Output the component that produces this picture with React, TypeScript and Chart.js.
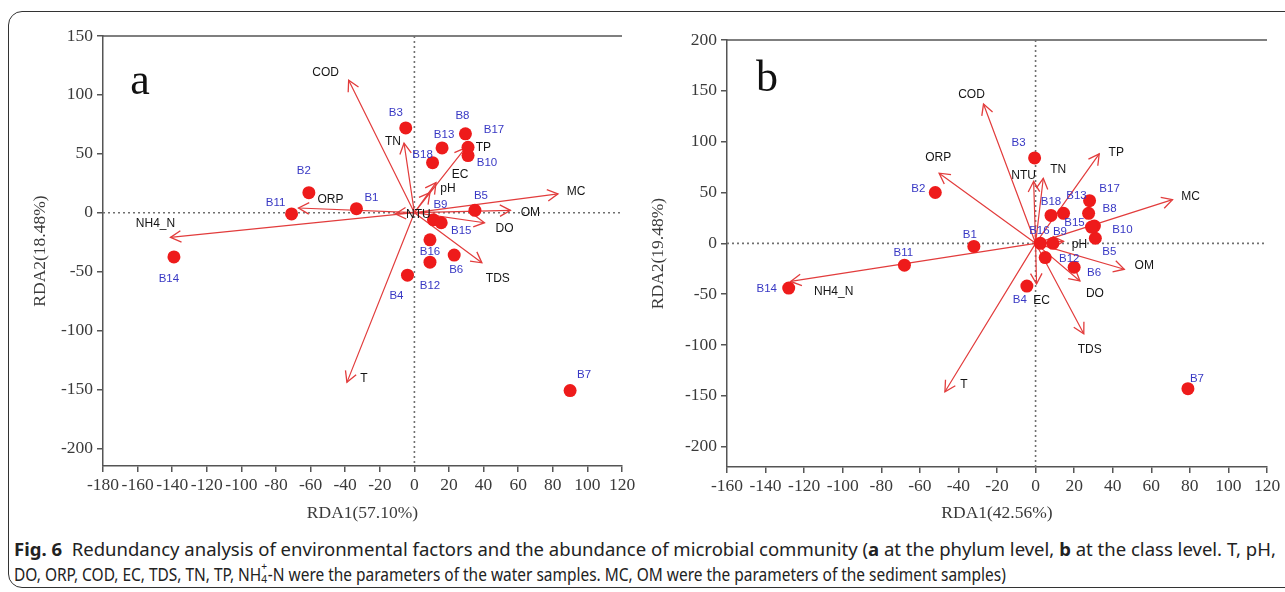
import React, { useEffect, useLayoutEffect, useRef, useState } from 'react';
import { Chart, registerables } from 'chart.js';

Chart.register(...registerables);

// ---------- Data ----------
const samples = ['B1', 'B2', 'B3', 'B4', 'B5', 'B6', 'B7', 'B8', 'B9', 'B10', 'B11', 'B12', 'B13', 'B14', 'B15', 'B16', 'B17', 'B18'];

// Panel a (phylum level)
const sampleXA = [-33.5, -61, -5, -4, 35, 23, 90, 29.5, 11, 31, -71, 9, 16, -139, 15.5, 9, 31, 10.5];
const sampleYA = [3.4, 17, 72, -53, 2, -36, -151, 67, -6, 48.5, -1, -42, 55, -37.5, -8.5, -23, 55.5, 42.5];
const factorsA = ['COD', 'TN', 'ORP', 'NH4_N', 'MC', 'OM', 'DO', 'TDS', 'T', 'TP', 'EC', 'pH', 'NTU'];
const factorXA = [-38, -6, -67, -141, 83, 55.5, 40.5, 39, -39, 29.5, 12.5, 9, -11];
const factorYA = [112.5, 59, 4, -21, 16, 2, -8.5, -42.5, -144, 55, 25.5, 17, -1];
const xTicksA = [-180, -160, -140, -120, -100, -80, -60, -40, -20, 0, 20, 40, 60, 80, 100, 120];
const yTicksA = [-200, -150, -100, -50, 0, 50, 100, 150];

// Panel b (class level)
const sampleXB = [-32, -52, -0.5, -4.5, 31, 20, 79, 27.5, 9, 30.5, -68, 5, 14.5, -128, 29, 2.5, 28, 8];
const sampleYB = [-3, 50, 84, -42, 5, -23.5, -143, 29.5, 0, 17, -21.5, -14, 29.5, -44, 16, 0, 42, 27.5];
const factorsB = ['COD', 'ORP', 'NH4_N', 'NTU', 'TN', 'TP', 'MC', 'OM', 'DO', 'pH', 'EC', 'TDS', 'T'];
const factorXB = [-27, -50, -127, -1, 4, 33, 71, 46, 23, 14.5, 0.5, 25, -47];
const factorYB = [137, 69, -37.5, 61, 64, 88, 43, -25.5, -37, 2, -40, -89, -146];
const xTicksB = [-160, -140, -120, -100, -80, -60, -40, -20, 0, 20, 40, 60, 80, 100, 120];
const yTicksB = [-200, -150, -100, -50, 0, 50, 100, 150, 200];

// ---------- Label placement (pixel offsets from marks) ----------
const sampleOffA = [[15, -11], [-5, -22], [-10, -15], [-11, 21], [6, -15], [2, 15], [14, -16], [-3, -18], [7, -15], [19, 7], [-16, -11], [0, 24], [2, -13], [-5, 22], [20, 8], [0, 12], [26, -18], [-10, -8]];
const factorOffA = [[-23, -7], [-11, -2], [32, -8], [-15, -14], [18, -2], [20, 2], [20, 6], [16, 16], [17, -4], [18, 0], [24, -8], [18, -4], [23, 1]];
const sampleOffB = [[-4, -12], [-17, -4], [-16, -15], [-7, 14], [14, 14], [20, 6], [9, -10], [21, -5], [7, -12], [28, 4], [-1, -12], [24, 1], [13, -18], [-22, 1], [-17, -4], [-1, -13], [20, -12], [0, -14]];
const factorOffB = [[-12, -9], [-1, -15], [43, 10], [-10, -6], [15, -9], [17, -1], [18, -3], [20, -4], [15, 13], [16, 3], [5, 17], [6, 16], [19, -7]];

const RED_POINT = '#ee1b1b';
const RED_ARROW = '#e23c3c';
const BLUE_LABEL = '#3838c4';
const AXIS_COLOR = '#555';
const TICK_COLOR = '#3a3a3a';
const SERIF = "'Liberation Serif', 'DejaVu Serif', serif";
const SANS = "'Liberation Sans', Arial, sans-serif";

type PanelCfg = {
  letter: string;
  letterPos: [number, number];
  sx: number[]; sy: number[]; sOff: number[][];
  fn: string[]; fx: number[]; fy: number[]; fOff: number[][];
  xTicks: number[]; yTicks: number[];
  xMin: number; xMax: number; yMin: number; yMax: number;
  xTitle: string; yTitle: string;
  padding: { left: number; right: number; top: number; bottom: number };
  yAxisWidth: number; xAxisHeight: number;
  yTitlePadTop: number;
};

function drawHead(ctx: CanvasRenderingContext2D, x0: number, y0: number, x1: number, y1: number) {
  const ang = Math.atan2(y1 - y0, x1 - x0);
  const len = 12;
  const spread = 0.5;
  ctx.beginPath();
  ctx.moveTo(x1 - len * Math.cos(ang - spread), y1 - len * Math.sin(ang - spread));
  ctx.lineTo(x1, y1);
  ctx.lineTo(x1 - len * Math.cos(ang + spread), y1 - len * Math.sin(ang + spread));
  ctx.stroke();
}

function buildConfig(p: PanelCfg): any {
  const arrowData: any[] = [];
  p.fx.forEach((x, i) => {
    arrowData.push({ x: 0, y: 0 });
    arrowData.push({ x, y: p.fy[i] });
    arrowData.push({ x: 0, y: null });
  });
  const pointData = p.sx.map((x, i) => ({ x, y: p.sy[i] }));

  const biplot = {
    id: 'biplot-' + p.letter,
    beforeDatasetsDraw(chart: any) {
      const { ctx, chartArea: a, scales } = chart;
      const x0 = scales.x.getPixelForValue(0);
      const y0 = scales.y.getPixelForValue(0);
      ctx.save();
      ctx.strokeStyle = AXIS_COLOR;
      ctx.lineWidth = 1.5;
      ctx.beginPath();
      ctx.moveTo(a.left, a.top);
      ctx.lineTo(a.right, a.top);
      ctx.stroke();
      ctx.strokeStyle = '#707070';
      ctx.lineWidth = 1.6;
      ctx.setLineDash([2, 3]);
      ctx.beginPath();
      ctx.moveTo(a.left, y0);
      ctx.lineTo(a.right, y0);
      ctx.moveTo(x0, a.top);
      ctx.lineTo(x0, a.bottom);
      ctx.stroke();
      ctx.setLineDash([]);
      ctx.fillStyle = '#111';
      ctx.font = `44px ${SERIF}`;
      ctx.textAlign = 'center';
      ctx.textBaseline = 'middle';
      ctx.fillText(p.letter, p.letterPos[0], p.letterPos[1]);
      ctx.restore();
    },
    afterDatasetDraw(chart: any, args: any) {
      if (args.index !== 0) return;
      const { ctx, scales } = chart;
      const x0 = scales.x.getPixelForValue(0);
      const y0 = scales.y.getPixelForValue(0);
      ctx.save();
      ctx.strokeStyle = RED_ARROW;
      ctx.lineWidth = 1.3;
      p.fx.forEach((fx, i) => {
        drawHead(ctx, x0, y0, scales.x.getPixelForValue(fx), scales.y.getPixelForValue(p.fy[i]));
      });
      ctx.restore();
    },
    afterDatasetsDraw(chart: any) {
      const { ctx, scales } = chart;
      ctx.save();
      ctx.textAlign = 'center';
      ctx.textBaseline = 'middle';
      ctx.fillStyle = '#151515';
      ctx.font = `12px ${SANS}`;
      p.fn.forEach((name, i) => {
        const px = scales.x.getPixelForValue(p.fx[i]) + p.fOff[i][0];
        const py = scales.y.getPixelForValue(p.fy[i]) + p.fOff[i][1];
        ctx.fillText(name, px, py);
      });
      ctx.fillStyle = BLUE_LABEL;
      ctx.font = `11.5px ${SANS}`;
      samples.forEach((name, i) => {
        const px = scales.x.getPixelForValue(p.sx[i]) + p.sOff[i][0];
        const py = scales.y.getPixelForValue(p.sy[i]) + p.sOff[i][1];
        ctx.fillText(name, px, py);
      });
      ctx.restore();
    },
  };

  return {
    type: 'scatter',
    data: {
      datasets: [
        {
          type: 'line',
          label: 'factors',
          data: arrowData,
          borderColor: RED_ARROW,
          borderWidth: 1.2,
          pointRadius: 0,
          showLine: true,
          spanGaps: false,
          fill: false,
          order: 2,
        },
        {
          label: 'samples',
          data: pointData,
          backgroundColor: RED_POINT,
          borderWidth: 0,
          pointRadius: 6.5,
          order: 1,
        },
      ],
    },
    options: {
      responsive: false,
      animation: false,
      devicePixelRatio: 1,
      layout: { padding: p.padding },
      plugins: { legend: { display: false }, tooltip: { enabled: false } },
      scales: {
        x: {
          type: 'linear',
          position: 'bottom',
          min: p.xMin,
          max: p.xMax,
          afterBuildTicks: (s: any) => { s.ticks = p.xTicks.map((v) => ({ value: v })); },
          afterFit: (s: any) => { s.height = p.xAxisHeight; },
          grid: { display: true, drawOnChartArea: false, drawTicks: true, tickLength: 6, color: AXIS_COLOR, lineWidth: 1.5 },
          border: { display: true, color: AXIS_COLOR, width: 1.5 },
          ticks: { autoSkip: false, maxRotation: 0, minRotation: 0, padding: 3, color: TICK_COLOR, font: { family: SERIF, size: 17.5 } },
          title: { display: true, text: p.xTitle, color: '#3a3a3a', font: { family: SERIF, size: 17.5 }, padding: { top: 0, bottom: 6 } },
        },
        y: {
          type: 'linear',
          position: 'left',
          min: p.yMin,
          max: p.yMax,
          afterBuildTicks: (s: any) => { s.ticks = p.yTicks.map((v) => ({ value: v })); },
          afterFit: (s: any) => { s.width = p.yAxisWidth; },
          grid: { display: true, drawOnChartArea: false, drawTicks: true, tickLength: 6, color: AXIS_COLOR, lineWidth: 1.5 },
          border: { display: true, color: AXIS_COLOR, width: 1.5 },
          ticks: { autoSkip: false, padding: 4, color: TICK_COLOR, font: { family: SERIF, size: 17.5 } },
          title: { display: true, text: p.yTitle, color: '#3a3a3a', font: { family: SERIF, size: 17.5 }, padding: { top: p.yTitlePadTop, bottom: 0 } },
        },
      },
    },
    plugins: [biplot],
  };
}

const panelA: PanelCfg = {
  letter: 'a', letterPos: [140, 82],
  sx: sampleXA, sy: sampleYA, sOff: sampleOffA,
  fn: factorsA, fx: factorXA, fy: factorYA, fOff: factorOffA,
  xTicks: xTicksA, yTicks: yTicksA,
  xMin: -180, xMax: 120, yMin: -215, yMax: 150,
  xTitle: 'RDA1(57.10%)', yTitle: 'RDA2(18.48%)',
  padding: { left: 26, right: 28, top: 36, bottom: 0 },
  yAxisWidth: 77, xAxisHeight: 64, yTitlePadTop: 4,
};

const panelB: PanelCfg = {
  letter: 'b', letterPos: [119, 79],
  sx: sampleXB, sy: sampleYB, sOff: sampleOffB,
  fn: factorsB, fx: factorXB, fy: factorYB, fOff: factorOffB,
  xTicks: xTicksB, yTicks: yTicksB,
  xMin: -160, xMax: 120, yMin: -220, yMax: 200,
  xTitle: 'RDA1(42.56%)', yTitle: 'RDA2(19.48%)',
  padding: { left: 0, right: 18, top: 40, bottom: 0 },
  yAxisWidth: 79, xAxisHeight: 63, yTitlePadTop: 0,
};

function Panel({ cfg, left, width, height }: { cfg: PanelCfg; left: number; width: number; height: number }) {
  const ref = useRef<HTMLCanvasElement | null>(null);
  useEffect(() => {
    if (!ref.current) return;
    const chart = new Chart(ref.current, buildConfig(cfg));
    return () => chart.destroy();
  }, [cfg]);
  return (
    <div style={{ position: 'absolute', left, top: 0, width, height }}>
      <canvas ref={ref} width={width} height={height} style={{ width, height, display: 'block' }} />
    </div>
  );
}

function FitLine({ target, top, children }: { target: number; top: number; children: React.ReactNode }) {
  const ref = useRef<HTMLSpanElement | null>(null);
  const [scale, setScale] = useState(1);
  useLayoutEffect(() => {
    if (!ref.current) return;
    const w = ref.current.offsetWidth;
    if (w > 0) setScale(target / w);
  }, [target]);
  return (
    <div style={{ position: 'absolute', left: 14, top, height: 25, transform: `scaleX(${scale})`, transformOrigin: '0 0' }}>
      <span ref={ref} style={{ whiteSpace: 'nowrap', display: 'inline-block', height: 25, lineHeight: '25px' }}>{children}</span>
    </div>
  );
}

function Caption() {
  return (
    <div style={{ position: 'absolute', left: 0, top: 0, fontFamily: "'Noto Sans', 'Open Sans', sans-serif", fontSize: 17.5, color: '#222' }}>
      <FitLine target={1262} top={537}>
        <b>Fig. 6</b>&nbsp; Redundancy analysis of environmental factors and the abundance of microbial community (<b>a</b> at the phylum level, <b>b</b> at the class level. T, pH,
      </FitLine>
      <FitLine target={992} top={562}>
        DO, ORP, COD, EC, TDS, TN, TP, NH<span style={{ position: 'relative', display: 'inline-block', width: '0.42em', height: '1em' }}><span style={{ position: 'absolute', left: 0, top: '-0.3em', fontSize: '0.66em', lineHeight: 1 }}>+</span><span style={{ position: 'absolute', left: 0, top: '0.78em', fontSize: '0.66em', lineHeight: 1 }}>4</span></span>-N were the parameters of the water samples. MC, OM were the parameters of the sediment samples)
      </FitLine>
    </div>
  );
}

export default function App() {
  return (
    <div style={{ position: 'absolute', left: 0, top: 0, width: 1285, height: 592, overflow: 'hidden', background: '#fff' }}>
      <div style={{ position: 'absolute', left: 8, top: 11, width: 1300, height: 577, border: '1px solid #333', borderRadius: 14, boxSizing: 'border-box' }} />
      <Panel cfg={panelA} left={0} width={650} height={530} />
      <Panel cfg={panelB} left={648} width={637} height={530} />
      <Caption />
    </div>
  );
}
